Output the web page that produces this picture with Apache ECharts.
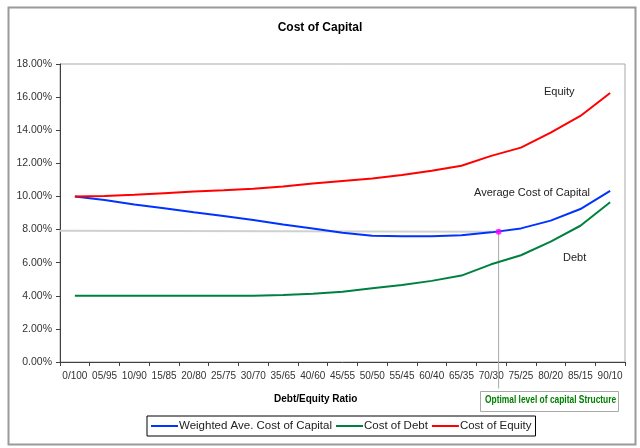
<!DOCTYPE html>
<html>
<head>
<meta charset="utf-8">
<script src="https://cdn.jsdelivr.net/npm/echarts@6/dist/echarts.min.js"></script>
<style>
html,body{margin:0;padding:0;background:#fff;}
#c{width:640px;height:448px;}
</style>
</head>
<body>
<div id="c"></div>
<script>
const categories = ['0/100','05/95','10/90','15/85','20/80','25/75','30/70','35/65','40/60','45/55','50/50','55/45','60/40','65/35','70/30','75/25','80/20','85/15','90/10'];
const waccValues = [10.0, 9.78, 9.52, 9.28, 9.04, 8.82, 8.58, 8.30, 8.07, 7.81, 7.63, 7.59, 7.60, 7.65, 7.83, 8.07, 8.54, 9.24, 10.34];
const debtValues = [4.0, 4.0, 4.0, 4.0, 4.0, 4.0, 4.0, 4.05, 4.12, 4.25, 4.45, 4.65, 4.9, 5.22, 5.9, 6.45, 7.27, 8.23, 9.65];
const equityValues = [10.0, 10.02, 10.1, 10.2, 10.3, 10.38, 10.47, 10.6, 10.78, 10.93, 11.08, 11.3, 11.55, 11.85, 12.45, 12.95, 13.86, 14.86, 16.25];
const yTicks = {min: 0, max: 18, interval: 2};
const optimalPoint = [14.25, 7.87];
const optimalHLine = [[-0.5, 7.93], [14.25, 7.86]];
const optimalVLine = [[14.25, 7.86], [14.25, -1.6]];

const FONT = '"Liberation Sans", Arial, sans-serif';
const chart = echarts.init(document.getElementById('c'), null, {renderer: 'canvas'});
chart.setOption({
  animation: false,
  backgroundColor: '#fff',
  title: [{
    text: 'Cost of Capital', left: 'center', top: 17,
    textStyle: {fontFamily: FONT, fontSize: 12, fontWeight: 'bold', color: '#000'}
  }, {
    text: 'Debt/Equity Ratio', left: 269, top: 389,
    textStyle: {fontFamily: FONT, fontSize: 10, fontWeight: 'bold', color: '#000'}
  }],
  grid: {left: 60, right: 15, top: 64, bottom: 86, containLabel: false, show: true, borderColor: '#a8a8a8', borderWidth: 1},
  legend: {
    data: ['Weighted Ave. Cost of Capital', 'Cost of Debt', 'Cost of Equity'],
    left: 147, top: 416, padding: [4, 4, 4, 4],
    borderColor: '#000', borderWidth: 1,
    icon: 'rect', itemWidth: 27, itemHeight: 2, itemGap: 4,
    textStyle: {fontFamily: FONT, fontSize: 11.5, color: '#222', padding: [0, 0, 0, -4]}
  },
  xAxis: [{
    type: 'category', data: categories, boundaryGap: true,
    axisLine: {onZero: false, lineStyle: {color: '#404040', width: 1}},
    axisTick: {show: true, interval: 0, length: 4, lineStyle: {color: '#404040'}},
    axisLabel: {interval: 0, fontFamily: FONT, fontSize: 10, color: '#333', margin: 9},
    splitLine: {show: false}
  }, {
    type: 'value', min: -0.5, max: 18.5, show: false, gridIndex: 0
  }],
  yAxis: {
    type: 'value', min: yTicks.min, max: yTicks.max, interval: yTicks.interval,
    axisLine: {show: true, onZero: false, lineStyle: {color: '#404040', width: 1}},
    axisTick: {show: true, length: 4, lineStyle: {color: '#404040'}},
    axisLabel: {fontFamily: FONT, fontSize: 10.5, color: '#333', margin: 8, formatter: v => v.toFixed(2) + '%'},
    splitLine: {show: false}
  },
  series: [{
    name: 'optimal-h', type: 'line', xAxisIndex: 1, data: optimalHLine, silent: true,
    showSymbol: false, lineStyle: {color: '#d0d0d0', width: 2}, z: 1
  }, {
    name: 'optimal-v', type: 'line', xAxisIndex: 1, data: optimalVLine, silent: true, clip: false,
    showSymbol: false, lineStyle: {color: '#a8a8a8', width: 1}, z: 1
  }, {
    name: 'Weighted Ave. Cost of Capital', type: 'line', data: waccValues, showSymbol: false,
    lineStyle: {color: '#0033ff', width: 2}, itemStyle: {color: '#0033ff'}, z: 3
  }, {
    name: 'Cost of Debt', type: 'line', data: debtValues, showSymbol: false,
    lineStyle: {color: '#008040', width: 2}, itemStyle: {color: '#008040'}, z: 3
  }, {
    name: 'Cost of Equity', type: 'line', data: equityValues, showSymbol: false,
    lineStyle: {color: '#ff0000', width: 2}, itemStyle: {color: '#ff0000'}, z: 3
  }, {
    name: 'optimal', type: 'scatter', xAxisIndex: 1, data: [optimalPoint], silent: true,
    symbol: 'circle', symbolSize: 6, itemStyle: {color: '#ff00ff'}, z: 5
  }],
  graphic: [{
    type: 'rect', left: 6, top: 5, shape: {width: 627, height: 437},
    style: {fill: 'none', stroke: '#9a9a9a', lineWidth: 2}, silent: true, z: -1
  }, {
    type: 'rect', left: 480, top: 391, shape: {width: 138, height: 20},
    style: {fill: '#fff', stroke: '#a8a8a8', lineWidth: 1}, silent: true
  }, {
    type: 'text', x: 485, y: 395, scaleX: 0.8,
    style: {text: 'Optimal level of capital Structure', fill: '#008000', font: 'bold 10.5px ' + FONT}
  }, {
    type: 'text', left: 544, top: 86,
    style: {text: 'Equity', fill: '#222', font: '11px ' + FONT}
  }, {
    type: 'text', left: 474, top: 187,
    style: {text: 'Average Cost of Capital', fill: '#222', font: '11px ' + FONT}
  }, {
    type: 'text', left: 563, top: 252,
    style: {text: 'Debt', fill: '#222', font: '11px ' + FONT}
  }]
});
</script>
</body>
</html>
